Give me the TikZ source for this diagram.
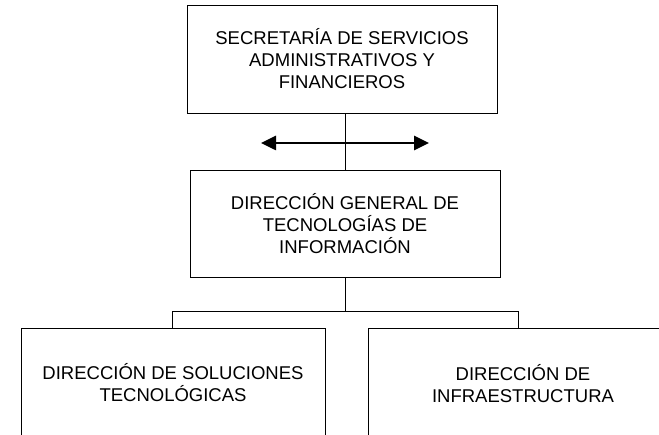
\documentclass[tikz,border=0pt]{standalone}
\usepackage{fontspec}
\setmainfont{Liberation Sans}
\usetikzlibrary{arrows.meta}
\begin{document}
\begin{tikzpicture}[x=1bp,y=-1bp,
  orgbox/.style={draw=black, line width=0.9bp, align=center, inner sep=0pt,
    font=\fontsize{18.5bp}{22bp}\selectfont},
  conn/.style={draw=black, line width=0.8bp},
  bigarrow/.style={line width=2.6bp, {Triangle[length=15bp,width=14bp]}-{Triangle[length=15bp,width=14bp]}}]
\useasboundingbox (0,0) rectangle (659,435);
\clip (0,0) rectangle (659,435);
\node[orgbox, minimum width=310bp, minimum height=108bp] (top) at (342,59)
  {SECRETARÍA DE SERVICIOS\\ADMINISTRATIVOS Y\\FINANCIEROS};
\node[orgbox, minimum width=310bp, minimum height=107bp] (mid) at (345,223.5)
  {DIRECCIÓN GENERAL DE\\TECNOLOGÍAS DE\\INFORMACIÓN};
\node[orgbox, minimum width=304bp, minimum height=110bp] (left) at (173,383)
  {DIRECCIÓN DE SOLUCIONES\\TECNOLÓGICAS};
\node[orgbox, minimum width=310bp, minimum height=112bp] (right) at (523,384)
  {DIRECCIÓN DE\\INFRAESTRUCTURA};
\draw[conn] (top.south -| mid.north) -- (mid.north);
\coordinate (al) at (261,143);
\coordinate (ar) at (429,143);
\draw[bigarrow] (al) -- (ar);
\coordinate (bus) at (345,311);
\coordinate (busl) at (172,311);
\coordinate (busr) at (518,311);
\draw[conn] (mid.south) -- (bus);
\draw[conn] (busl) -- (busr);
\draw[conn] (busl) -- (busl |- left.north);
\draw[conn] (busr) -- (busr |- right.north);
\end{tikzpicture}
\end{document}
